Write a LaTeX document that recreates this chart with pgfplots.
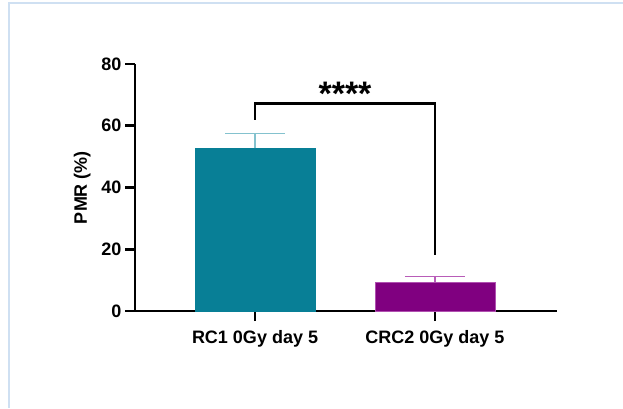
\documentclass[border=0pt]{standalone}
\usepackage{pgfplots}
\pgfplotsset{compat=1.18}
\usepackage{fontspec}
\setmainfont{Liberation Sans}
\definecolor{tealbar}{HTML}{087F96}
\definecolor{tealerr}{HTML}{84C2CE}
\definecolor{purpbar}{HTML}{800080}
\definecolor{purpedge}{HTML}{B050B0}
\definecolor{purperr}{HTML}{B85CB8}
\definecolor{framec}{HTML}{CFE0F2}
\begin{document}
\begin{tikzpicture}
\useasboundingbox (0pt,0pt) rectangle (623pt,408pt);
\draw[framec, line width=2pt] (8.5pt,0pt) -- (8.5pt,404.5pt) -- (623pt,404.5pt);
\begin{axis}[
  at={(135pt,97pt)}, anchor=south west,
  scale only axis, width=422pt, height=247pt,
  xmin=-0.667, xmax=1.678, ymin=0, ymax=80,
  axis x line*=bottom, axis y line*=left,
  axis line style={-, line width=2.6pt, black},
  ytick={0,20,40,60,80},
  xtick={0,1}, xticklabels={RC1 0Gy day 5, CRC2 0Gy day 5},
  tick align=outside, major tick length=10pt,
  tick style={line width=2.6pt, black},
  /pgf/number format/assume math mode=true,
  tick label style={font=\fontsize{18}{21}\selectfont\bfseries},
  xticklabel style={yshift=-6pt},
  ylabel={PMR (\%)},
  ylabel style={font=\fontsize{18}{21}\selectfont\bfseries, at={(axis description cs:-0.125,0.5)}, anchor=center},
  clip=false,
]
\addplot[ybar, bar width=120pt, bar shift=0pt, fill=tealbar, draw=tealbar,
  error bars/.cd, y dir=plus, y explicit,
  error bar style={tealerr, line width=1.5pt},
  error mark options={tealerr, line width=1.5pt, mark size=30pt, rotate=90}]
  coordinates {(0,52.7) +- (0,4.8)};
\addplot[ybar, bar width=120pt, bar shift=0pt, fill=purpbar, draw=purpedge, line width=0.8pt,
  error bars/.cd, y dir=plus, y explicit,
  error bar style={purperr, line width=1.5pt},
  error mark options={purperr, line width=1.5pt, mark size=30pt, rotate=90}]
  coordinates {(1,9.4) +- (0,1.8)};
\addplot[black, line width=2.6pt, mark=none, line join=miter] coordinates {(0,61.9) (0,67.3) (1,67.3) (1,18.1)};
\node[font=\fontsize{34}{36}\selectfont\bfseries] at (axis cs:0.5,70.3) {****};
\end{axis}
\end{tikzpicture}
\end{document}
